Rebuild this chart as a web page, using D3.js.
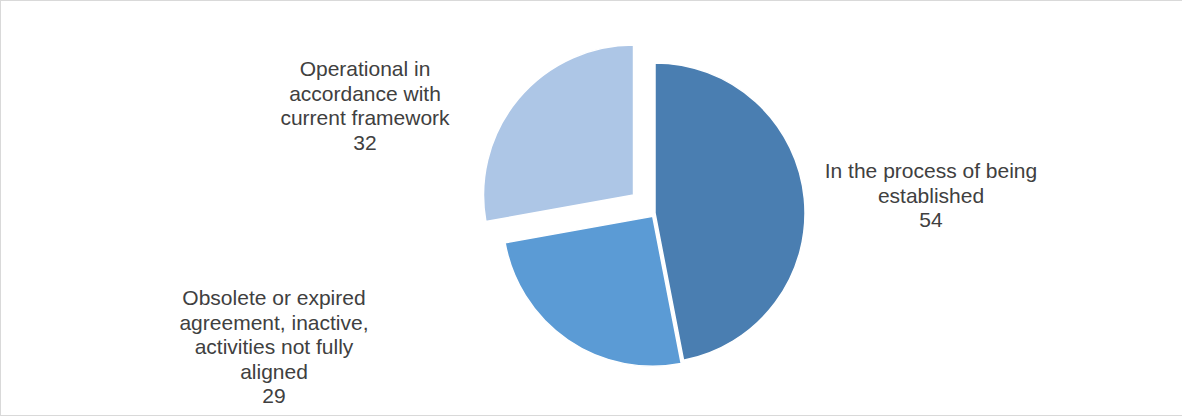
<!DOCTYPE html>
<html>
<head>
<meta charset="utf-8">
<script src="https://cdn.jsdelivr.net/npm/d3@7"></script>
<style>
  html, body { margin: 0; padding: 0; background: #fff; }
</style>
</head>
<body>
<div id="chart"></div>
<script>
(function() {
"use strict";

// chart data
const categories = [
  "In the process of being established",
  "Obsolete or expired agreement, inactive, activities not fully aligned",
  "Operational in accordance with current framework"
];
const values = [54, 29, 32];
// label lines as they wrap in the picture
const labelLines = [
  ["In the process of being", "established"],
  ["Obsolete or expired", "agreement, inactive,", "activities not fully", "aligned"],
  ["Operational in", "accordance with", "current framework"]
];

const WIDTH = 1182;
const HEIGHT = 417;
const CX = 655;
const CY = 213;
const RADIUS = 150;
const COLORS = ["#4a7eb1", "#5b9bd5", "#adc6e6"];
const EXPLODE = [0, 4, 28];
const LABEL_POS = [[931, 178], [274, 305], [365, 76]];
const LINE_H = 24.5;

const SVG = d3.select("#chart")
              .append("svg")
              .attr("width", WIDTH)
              .attr("height", HEIGHT);

SVG.append("rect")
  .attr("x", 0.5)
  .attr("y", 0.5)
  .attr("width", WIDTH)
  .attr("height", HEIGHT - 2)
  .attr("fill", "none")
  .attr("stroke", "#d9d9d9");

const pie = d3.pie().sort(null).value((d) => d);
const arcs = pie(values);
const arc = d3.arc().innerRadius(0).outerRadius(RADIUS);

const g = SVG.append("g").attr("transform", `translate(${CX}, ${CY})`);

g.selectAll("path")
  .data(arcs)
  .enter()
  .append("path")
    .attr("d", arc)
    .attr("fill", (d, i) => COLORS[i])
    .attr("stroke", "#fff")
    .attr("stroke-width", 1.5)
    .attr("transform", (d, i) => {
      const mid = (d.startAngle + d.endAngle) / 2;
      return `translate(${Math.sin(mid) * EXPLODE[i]}, ${-Math.cos(mid) * EXPLODE[i]})`;
    });

const labels = SVG.selectAll("text.label")
  .data(arcs)
  .enter()
  .append("text")
    .attr("class", "label")
    .attr("x", (d, i) => LABEL_POS[i][0])
    .attr("y", (d, i) => LABEL_POS[i][1])
    .attr("text-anchor", "middle")
    .attr("font-family", "'Liberation Sans', Arial, sans-serif")
    .attr("font-size", 21)
    .attr("fill", "#404040");

labels.each(function(d, i) {
  const t = d3.select(this);
  labelLines[i].concat([String(values[i])]).forEach((line, j) => {
    t.append("tspan")
      .attr("x", LABEL_POS[i][0])
      .attr("y", LABEL_POS[i][1] + j * LINE_H)
      .text(line);
  });
});

})();
</script>
</body>
</html>
